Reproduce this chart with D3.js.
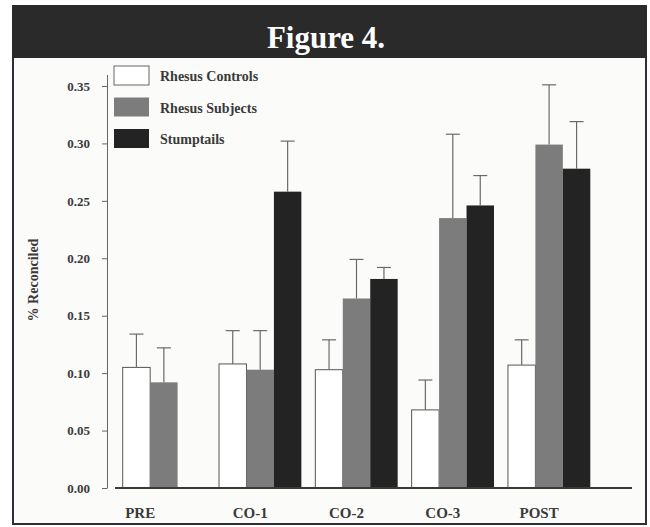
<!DOCTYPE html>
<html>
<head>
<meta charset="utf-8">
<script src="https://cdn.jsdelivr.net/npm/d3@7"></script>
<style>
  body { margin: 0; background: #ffffff; }
  svg { display: block; }
</style>
</head>
<body>
<div class="canvas"></div>
<script>
// data
const categories = ['PRE', 'CO-1', 'CO-2', 'CO-3', 'POST'];
const seriesNames = ['Rhesus Controls', 'Rhesus Subjects', 'Stumptails'];
const rhesusControls = [0.105, 0.108, 0.103, 0.068, 0.107];
const rhesusControlsErr = [0.029, 0.029, 0.026, 0.026, 0.022];
const rhesusSubjects = [0.092, 0.103, 0.165, 0.235, 0.299];
const rhesusSubjectsErr = [0.030, 0.034, 0.034, 0.073, 0.052];
const stumptails = [null, 0.258, 0.182, 0.246, 0.278];
const stumptailsErr = [null, 0.044, 0.010, 0.026, 0.041];
const yTicks = [0, 0.05, 0.10, 0.15, 0.20, 0.25, 0.30, 0.35];

const colors = ['#ffffff', '#7c7c7c', '#232323'];
const font = "'Liberation Serif', 'Times New Roman', serif";

const width = 650, height = 527;

const svg = d3.select('.canvas')
    .append('svg')
    .attr('width', width)
    .attr('height', height)

// frame + title band
svg.append('rect')
    .attr('x', 13).attr('y', 6)
    .attr('width', 633).attr('height', 518)
    .attr('fill', '#fbfbf9')
    .attr('stroke', '#2e2e3a')
    .attr('stroke-width', 2)

svg.append('rect')
    .attr('x', 12).attr('y', 5)
    .attr('width', 635).attr('height', 53)
    .attr('fill', '#2a2a2a')

svg.append('text')
    .attr('x', 326).attr('y', 48)
    .attr('text-anchor', 'middle')
    .attr('font-family', font)
    .attr('font-weight', 'bold')
    .attr('font-size', 31)
    .attr('fill', '#ffffff')
    .text('Figure 4.')

// build rows for the grouped bars
const series = [
    {name: seriesNames[0], values: rhesusControls, err: rhesusControlsErr},
    {name: seriesNames[1], values: rhesusSubjects, err: rhesusSubjectsErr},
    {name: seriesNames[2], values: stumptails, err: stumptailsErr}
];

// scales
const y = d3.scaleLinear()
    .domain([0, 0.36])
    .range([488, 74.5]);

const x0 = d3.scaleBand()
    .domain(categories)
    .range([115, 598])
    .paddingInner(0.145)
    .paddingOuter(0.08);

const x1 = d3.scaleBand()
    .domain(seriesNames)
    .range([0, x0.bandwidth()]);

// y axis
const yAxisGroup = svg.append('g')
    .attr('transform', 'translate(107, 0)')
    .call(d3.axisLeft(y)
        .tickValues(yTicks)
        .tickFormat(d3.format('.2f'))
        .tickSize(5)
        .tickSizeOuter(0)
        .tickPadding(12));

yAxisGroup.select('.domain').attr('stroke', '#666');
yAxisGroup.selectAll('.tick line').attr('stroke', '#666');
yAxisGroup.selectAll('.tick text')
    .attr('font-family', font)
    .attr('font-weight', 'bold')
    .attr('font-size', 13)
    .attr('fill', '#3a3a3a');

svg.append('text')
    .attr('transform', 'translate(38, 280) rotate(-90)')
    .attr('text-anchor', 'middle')
    .attr('font-family', font)
    .attr('font-weight', 'bold')
    .attr('font-size', 14)
    .attr('fill', '#3a3a3a')
    .text('% Reconciled')

// bars
const groups = svg.selectAll('g.group')
    .data(categories)
    .enter()
    .append('g')
    .attr('class', 'group')
    .attr('transform', d => `translate(${x0(d)}, 0)`);

const barData = (c, i) => series
    .map((s, k) => ({name: s.name, value: s.values[i], err: s.err[i], k}))
    .filter(d => d.value != null);

groups.selectAll('rect')
    .data(barData)
    .enter()
    .append('rect')
    .attr('x', d => x1(d.name))
    .attr('y', d => y(d.value))
    .attr('width', x1.bandwidth())
    .attr('height', d => y(0) - y(d.value))
    .attr('fill', d => colors[d.k])
    .attr('stroke', d => d.k === 0 ? '#555' : 'none')
    .attr('stroke-width', 1)

// error bars (upper only)
const errs = groups.selectAll('g.err')
    .data(barData)
    .enter()
    .append('g')
    .attr('class', 'err')
    .attr('stroke', '#6a6a6a')
    .attr('stroke-width', 1.2);

errs.append('line')
    .attr('x1', d => x1(d.name) + x1.bandwidth() / 2)
    .attr('x2', d => x1(d.name) + x1.bandwidth() / 2)
    .attr('y1', d => y(d.value))
    .attr('y2', d => y(d.value + d.err));

errs.append('line')
    .attr('x1', d => x1(d.name) + x1.bandwidth() / 2 - 7)
    .attr('x2', d => x1(d.name) + x1.bandwidth() / 2 + 7)
    .attr('y1', d => y(d.value + d.err))
    .attr('y2', d => y(d.value + d.err));

// x baseline
svg.append('line')
    .attr('x1', 115).attr('x2', 632)
    .attr('y1', y(0)).attr('y2', y(0))
    .attr('stroke', '#3a3a3a')
    .attr('stroke-width', 2)

// category labels, centred under the drawn bars and nudged left
groups.append('text')
    .attr('x', (c, i) => {
        const bars = barData(c, i);
        const left = x1(bars[0].name);
        const right = x1(bars[bars.length - 1].name) + x1.bandwidth();
        return (left + right) / 2 - 10;
    })
    .attr('y', 518)
    .attr('text-anchor', 'middle')
    .attr('font-family', font)
    .attr('font-weight', 'bold')
    .attr('font-size', 15)
    .attr('fill', '#3a3a3a')
    .text(d => d)

// legend
const legend = svg.append('g')
    .attr('transform', 'translate(114, 66)');

const items = legend.selectAll('g')
    .data(seriesNames)
    .enter()
    .append('g')
    .attr('transform', (d, i) => `translate(0, ${i * 31.5})`);

items.append('rect')
    .attr('width', 35)
    .attr('height', 19)
    .attr('fill', (d, i) => colors[i])
    .attr('stroke', (d, i) => i === 0 ? '#666' : 'none')

items.append('text')
    .attr('x', 46)
    .attr('y', 15)
    .attr('font-family', font)
    .attr('font-weight', 'bold')
    .attr('font-size', 14)
    .attr('fill', '#3a3a3a')
    .text(d => d)
</script>
</body>
</html>
